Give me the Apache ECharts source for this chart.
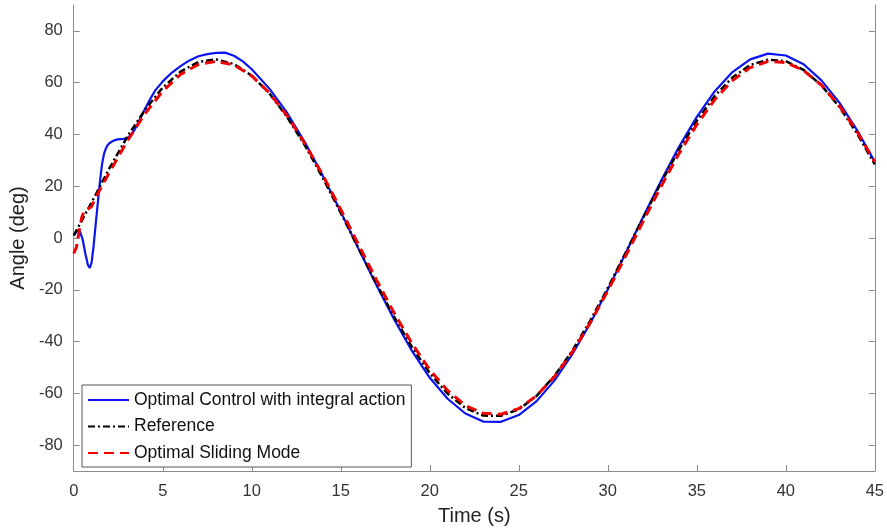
<!DOCTYPE html>
<html>
<head>
<meta charset="utf-8">
<script src="https://cdn.jsdelivr.net/npm/echarts@6/dist/echarts.min.js"></script>
<style>
html,body{margin:0;padding:0;background:#fff;}
#chart{width:887px;height:531px;}
</style>
</head>
<body>
<div id="chart"></div>
<script>
// Series names
const seriesNames = ['Optimal Control with integral action', 'Reference', 'Optimal Sliding Mode'];

// Optimal Control with integral action (blue)
const ocTime = [0,0.2,0.35,0.5,0.65,0.8,0.9,1.0,1.1,1.2,1.3,1.4,1.5,1.6,1.7,1.8,1.9,2.0,2.2,2.4,2.6,2.8,3.0,3.2,3.4,3.6,3.8,4.0,4.3,4.6,5,5.5,6,6.5,7,7.5,8,8.5,9,9.5,10,11,12,13,14,15,16,17,18,19,20,21,22,23,24,25,26,27,28,29,30,31,32,33,34,35,36,37,38,39,40,41,42,43,44,45];
const ocAngle = [1,2.8,2.5,-0.5,-6,-10.5,-11.5,-9.5,-4,3,10,17,23.5,29,32.5,34.5,35.8,36.6,37.5,38,38.2,38.3,38.6,39.6,41.6,44.2,47,49.8,53.8,57.2,60.5,63.8,66.4,68.6,70.2,71.0,71.5,71.6,70.4,68.2,65.2,57.6,48.2,36.8,23.9,10.1,-4.2,-18.2,-31.5,-43.6,-54.0,-62.1,-67.8,-70.9,-71.0,-68.4,-63.0,-55.1,-45.0,-33.1,-19.9,-5.9,8.3,22.2,35.2,46.8,56.6,64.1,69.0,71.2,70.5,67.1,60.9,52.4,41.7,29.4];

// Reference (black dash-dot)
const refTime = [0,1,2,3,4,5,6,7,8,9,10,11,12,13,14,15,16,17,18,19,20,21,22,23,24,25,26,27,28,29,30,31,32,33,34,35,36,37,38,39,40,41,42,43,44,45];
const refAngle = [1,13.7,26.9,39.0,49.5,58.1,64.3,68.0,69.0,67.2,62.7,55.8,46.6,35.6,23.1,9.7,-4.0,-17.6,-30.5,-42.2,-52.2,-60.1,-65.7,-68.6,-68.7,-66.2,-61.0,-53.3,-43.6,-32.1,-19.3,-5.7,8.0,21.5,34.1,45.3,54.8,62.0,66.8,68.9,68.3,64.9,59.0,50.7,40.4,28.4];

// Optimal Sliding Mode (red dashed)
const smTime = [0,0.15,0.3,0.45,0.6,0.8,1.0,1.3,2,3,4,5,6,7,8,9,10,11,12,13,14,15,16,17,18,19,20,21,22,23,24,25,26,27,28,29,30,31,32,33,34,35,36,37,38,39,40,41,42,43,44,45];
const smAngle = [-6,-3.5,2.5,8,10.5,11.2,12.2,16.5,25.3,37.4,48.0,56.7,63.2,67.0,68.3,66.8,62.6,56.0,47.1,36.3,24.2,11.0,-2.6,-16.1,-29.0,-40.7,-50.9,-58.9,-64.7,-67.7,-68.1,-65.9,-60.9,-53.6,-44.1,-32.9,-20.4,-7.0,6.6,20.0,32.6,43.8,53.4,60.8,65.8,68.2,67.8,64.7,59.1,51.1,41.1,29.4];

// Tick labels
const yTicks = [-80,-60,-40,-20,0,20,40,60,80];
const xTicks = [0,5,10,15,20,25,30,35,40,45];

const pairs = (t, v) => t.map((x, i) => [x, v[i]]);

const chart = echarts.init(document.getElementById('chart'), null, {renderer: 'canvas'});
const FONT = '"Liberation Sans", Arial, Helvetica, sans-serif';
const axisGray = '#8c8c8c';

chart.setOption({
  animation: false,
  backgroundColor: '#ffffff',
  textStyle: {fontFamily: FONT},
  grid: {left: 72, right: 11, top: 5, bottom: 58},
  legend: {
    data: seriesNames,
    orient: 'vertical',
    left: 82,
    top: 385,
    itemWidth: 41,
    itemHeight: 14,
    itemGap: 8.5,
    padding: [6, 6, 5, 5],
    borderColor: '#555',
    borderWidth: 1,
    backgroundColor: '#ffffff',
    itemStyle: {color: 'rgba(0,0,0,0)', borderWidth: 0, opacity: 0},
    textStyle: {fontSize: 17.5, color: '#111', fontFamily: FONT, lineHeight: 18},
    selectedMode: false
  },
  xAxis: {
    type: 'value',
    min: 0, max: 45, interval: 5,
    name: 'Time (s)',
    nameLocation: 'middle',
    nameGap: 35,
    nameTextStyle: {fontSize: 20, color: '#222', fontFamily: FONT},
    axisLine: {show: true, onZero: false, lineStyle: {color: axisGray, width: 1}},
    axisTick: {show: true, inside: true, length: 6, lineStyle: {color: axisGray}, customValues: xTicks},
    axisLabel: {fontSize: 16.5, color: '#333', margin: 12, fontFamily: FONT, customValues: xTicks},
    splitLine: {show: false}
  },
  yAxis: [{
    type: 'value',
    min: -90, max: 90, interval: 10,
    name: 'Angle (deg)',
    nameLocation: 'middle',
    nameGap: 44,
    nameTextStyle: {fontSize: 20, color: '#222', fontFamily: FONT},
    axisLine: {show: true, onZero: false, lineStyle: {color: axisGray, width: 1}},
    axisTick: {show: true, inside: true, length: 6, lineStyle: {color: axisGray}, customValues: yTicks},
    axisLabel: {fontSize: 16.5, color: '#333', margin: 11, fontFamily: FONT, customValues: yTicks},
    splitLine: {show: false}
  }, {
    type: 'value',
    position: 'right',
    min: -90, max: 90, interval: 10,
    axisLine: {show: true, onZero: false, lineStyle: {color: axisGray, width: 1}},
    axisTick: {show: true, inside: true, length: 6, lineStyle: {color: axisGray}, customValues: yTicks},
    axisLabel: {show: false},
    splitLine: {show: false}
  }],
  series: [{
    name: seriesNames[0],
    type: 'line',
    data: pairs(ocTime, ocAngle),
    symbol: 'none',
    smooth: false,
    lineStyle: {color: '#0a14f0', width: 2.2, type: 'solid'},
    itemStyle: {color: '#0a14f0'},
    z: 2
  }, {
    name: seriesNames[1],
    type: 'line',
    data: pairs(refTime, refAngle),
    symbol: 'none',
    lineStyle: {color: '#000000', width: 2.5, type: [7, 3, 2, 3]},
    itemStyle: {color: '#000000'},
    z: 3
  }, {
    name: seriesNames[2],
    type: 'line',
    data: pairs(smTime, smAngle),
    symbol: 'none',
    lineStyle: {color: '#f00000', width: 3, type: [10, 6]},
    itemStyle: {color: '#f00000'},
    z: 4
  }]
});
</script>
</body>
</html>
